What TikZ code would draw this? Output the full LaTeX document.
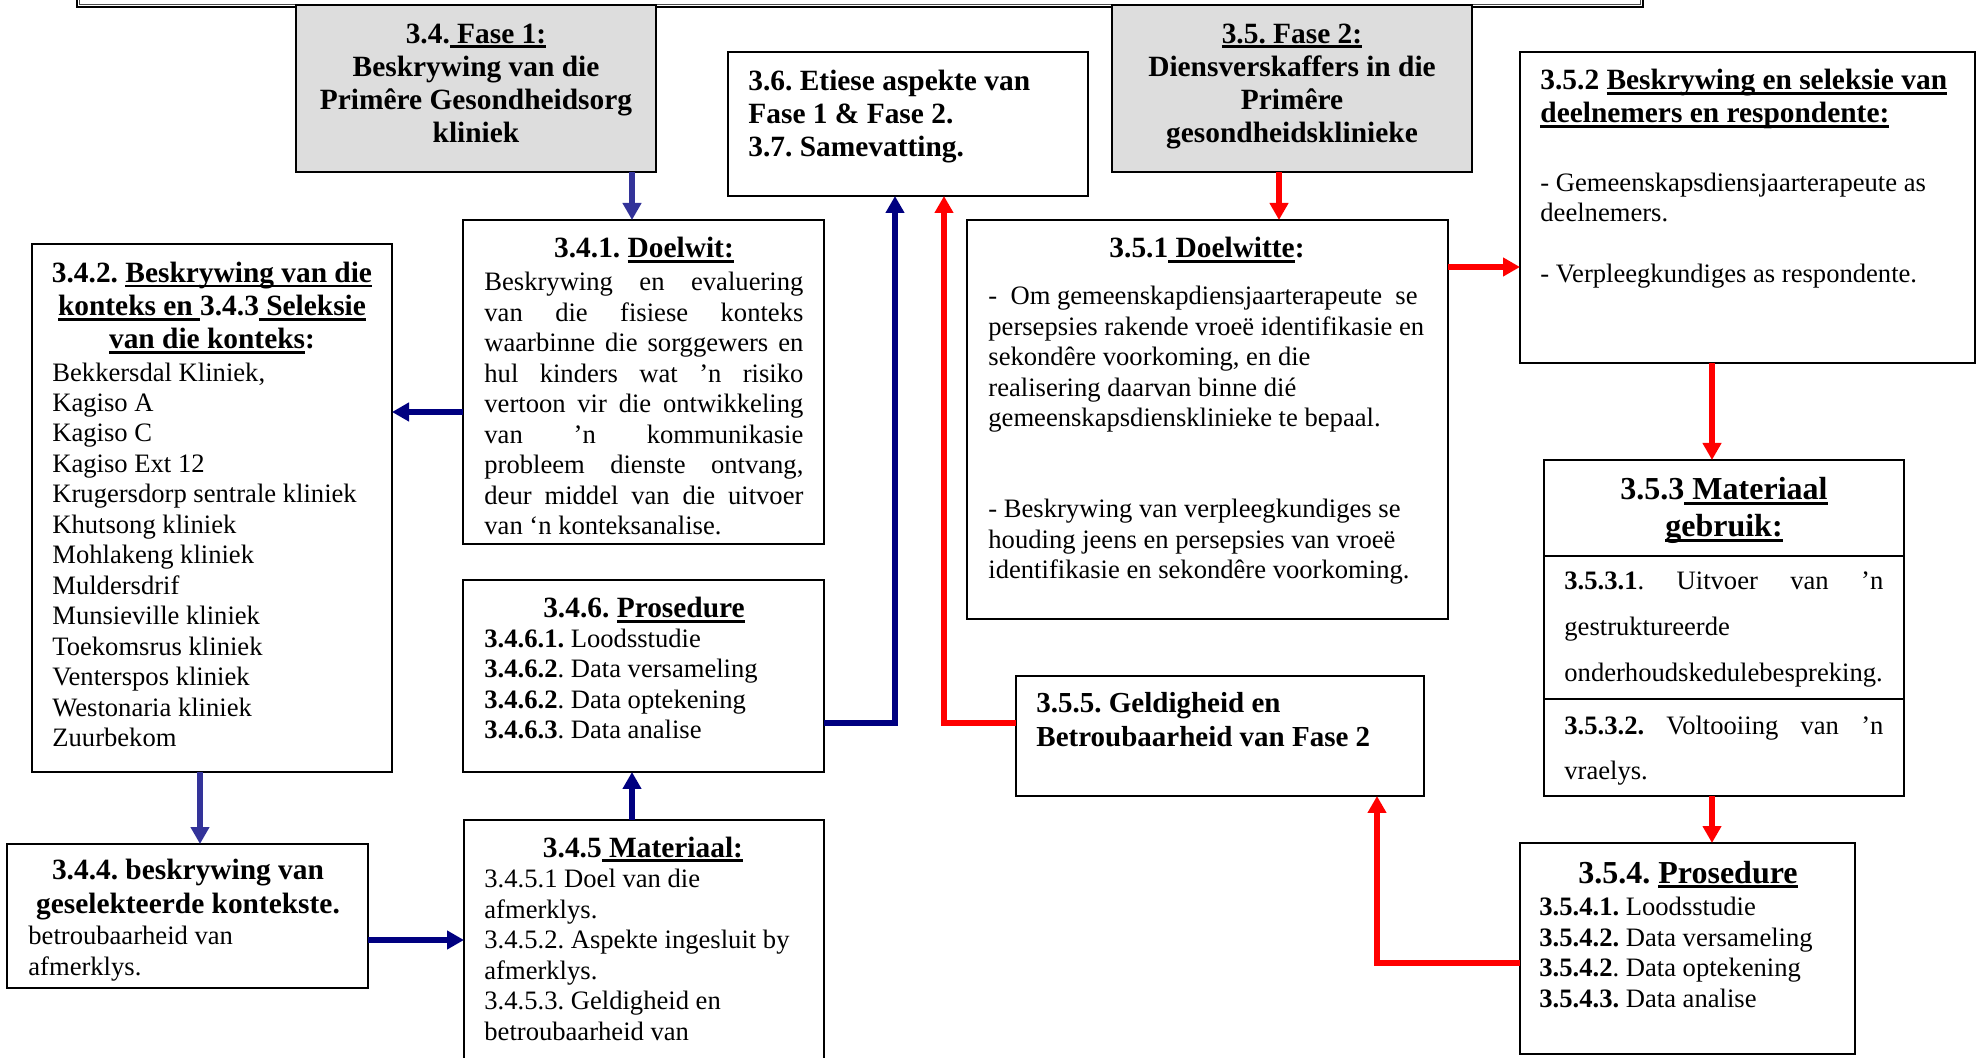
\documentclass[tikz,border=0pt]{standalone}
\usepackage{fontspec}
\setmainfont{Liberation Serif}
\usetikzlibrary{arrows.meta,calc,fit}
\frenchspacing

\definecolor{navyline}{RGB}{0,0,128}
\definecolor{slateline}{RGB}{51,51,153}
\definecolor{redline}{RGB}{255,0,0}
\definecolor{panelgray}{RGB}{221,221,221}

% heavy underline used in the headings
\newsavebox\ulbox
\newcommand\ul[1]{\sbox\ulbox{#1}\rlap{\vrule height -1.2pt depth 2.4pt width \wd\ulbox}\usebox\ulbox}
\newcommand\hdfont{\bfseries\fontsize{14.7}{16.6}\selectfont}
\newcommand\bigfont{\bfseries\fontsize{16}{18.5}\selectfont}
\newcommand\bdfont{\fontsize{13.3}{15.25}\selectfont}
% one justified line of a narrow column
\newcommand\jl[1]{\makebox[159.5pt][s]{#1}}

\begin{document}
\begin{tikzpicture}[x=0.5pt,y=-0.5pt,
  frame/.style={draw=black, line width=1pt, inner sep=0pt, outer sep=0pt},
  shaded/.style={frame, fill=panelgray},
  head/.style={font=\hdfont, inner sep=0pt, align=center, anchor=base},
  headl/.style={font=\hdfont, inner sep=0pt, align=left, anchor=base west},
  bighead/.style={font=\bigfont, inner sep=0pt, align=center, anchor=base},
  body/.style={font=\bdfont, inner sep=0pt, align=left, anchor=base west},
  link/.style={line width=3pt, -{Triangle[length=8.5pt,width=9pt]}},
  navylink/.style={link, color=navyline},
  slatelink/.style={link, color=slateline},
  redlink/.style={link, color=redline},
]
\useasboundingbox (0,0) rectangle (1977,1058);

% title frame along the top edge
\node[draw=black, line width=1.3pt, inner sep=0pt, fit={(77,-40) (1643,7)}] (title) {};
\draw[black!70, line width=0.6pt] ($(title.south west)+(4,-4)$) rectangle ($(title.north east)+(-4,0)$);

% ---------- boxes ----------
\node[shaded, fit={(296,5) (656,172)}] (b34) {};
\node[frame, fit={(728,52) (1088,196)}] (b36) {};
\node[shaded, fit={(1112,5) (1472,172)}] (b35) {};
\node[frame, fit={(1520,52) (1975,363)}] (b352) {};
\node[frame, fit={(32,244) (392,772)}] (b342) {};
\node[frame, fit={(463,220) (824,544)}] (b341) {};
\node[frame, fit={(463,580) (824,772)}] (b346) {};
\node[frame, fit={(967,220) (1448,619)}] (b351) {};
\node[frame, fit={(1016,676) (1424,796)}] (b355) {};
\node[frame, fit={(1544,460) (1904,796)}] (b353) {};
\node[frame, fit={(1520,843) (1855,1054)}] (b354) {};
\node[frame, fit={(7,844) (368,988)}] (b344) {};
\node[frame, fit={(464,820) (824,1080)}] (b345) {};
\draw[line width=1pt] ($(b353.north west)+(0,96)$) -- ($(b353.north east)+(0,96)$);
\draw[line width=1pt] ($(b353.north west)+(0,239)$) -- ($(b353.north east)+(0,239)$);

% ---------- texts (each placed at the baseline of its last line) ----------
\node[head, font=\bfseries\fontsize{14.7}{16.65}\selectfont] (t34) at (476,143)
  {3.4.\ul{ Fase 1:}\\Beskrywing van die\\Primêre Gesondheidsorg\\kliniek};
\node[headl] (t36) at (748,157)
  {3.6. Etiese aspekte van\\Fase 1 \& Fase 2.\\3.7. Samevatting.};
\node[head, font=\bfseries\fontsize{14.7}{16.65}\selectfont] (t35) at (1292,143)
  {\ul{3.5. Fase 2:}\\Diensverskaffers in die\\Primêre\\gesondheidsklinieke};

\node[headl] (t352h) at (1540,123)
  {3.5.2 \ul{Beskrywing en seleksie van}\\\ul{deelnemers en respondente:}};
\node[body] (t352a) at (1540,222) {- Gemeenskapsdiensjaarterapeute as\\deelnemers.};
\node[body] (t352b) at (1540,283) {- Verpleegkundiges as respondente.};

\node[head] (t342h) at (212,349)
  {3.4.2. \ul{Beskrywing van die}\\\ul{konteks en }3.4.3\ul{ Seleksie}\\\ul{van die konteks}:};
\node[body] (t342b) at (52,747)
  {Bekkersdal Kliniek,\\Kagiso A\\Kagiso C\\Kagiso Ext 12\\Krugersdorp sentrale kliniek\\%
   Khutsong kliniek\\Mohlakeng kliniek\\Muldersdrif\\Munsieville kliniek\\Toekomsrus kliniek\\%
   Venterspos kliniek\\Westonaria kliniek\\Zuurbekom};

\node[head] (t341h) at (644,258) {3.4.1. \ul{Doelwit:}};
\node[body] (t341b) at (484,535)
  {\jl{Beskrywing en evaluering}\\\jl{van die fisiese konteks}\\\jl{waarbinne die sorggewers en}\\%
   \jl{hul kinders wat ’n risiko}\\\jl{vertoon vir die ontwikkeling}\\\jl{van ’n kommunikasie}\\%
   \jl{probleem dienste ontvang,}\\\jl{deur middel van die uitvoer}\\van ‘n konteksanalise.};

\node[head] (t346h) at (644,618) {3.4.6. \ul{Prosedure}};
\node[body] (t346b) at (484,739)
  {\textbf{3.4.6.1.} Loodsstudie\\\textbf{3.4.6.2}. Data versameling\\%
   \textbf{3.4.6.2}. Data optekening\\\textbf{3.4.6.3}. Data analise};

\node[head] (t351h) at (1207,258) {3.5.1\ul{ Doelwitte}:};
\node[body] (t351a) at (988,427)
  {-\ \ Om gemeenskapdiensjaarterapeute\ \ se\\persepsies rakende vroeë identifikasie en\\%
   sekondêre voorkoming, en die\\realisering daarvan binne dié\\gemeenskapsdiensklinieke te bepaal.};
\node[body] (t351b) at (988,579)
  {- Beskrywing van verpleegkundiges se\\houding jeens en persepsies van vroeë\\%
   identifikasie en sekondêre voorkoming.};

\node[headl, font=\bfseries\fontsize{14.5}{17}\selectfont] (t355) at (1036,747)
  {3.5.5. Geldigheid en\\Betroubaarheid van Fase 2};

\node[bighead] (t353h) at (1724,537) {3.5.3\ul{ Materiaal}\\\ul{gebruik:}};
\node[body, font=\fontsize{13.3}{23}\selectfont] (t353a) at (1564,682)
  {\jl{\textbf{3.5.3.1}. Uitvoer van ’n}\\gestruktureerde\\onderhoudskedulebespreking.};
\node[body, font=\fontsize{13.3}{22.5}\selectfont] (t353b) at (1564,780)
  {\jl{\textbf{3.5.3.2.} Voltooiing van ’n}\\vraelys.};

\node[bighead] (t354h) at (1688,883) {3.5.4. \ul{Prosedure}};
\node[body] (t354b) at (1539,1007)
  {\textbf{3.5.4.1.} Loodsstudie\\\textbf{3.5.4.2.} Data versameling\\%
   \textbf{3.5.4.2}. Data optekening\\\textbf{3.5.4.3.} Data analise};

\node[head] (t344h) at (188,913) {3.4.4. beskrywing van\\geselekteerde kontekste.};
\node[body] (t344b) at (28,975) {betroubaarheid van\\afmerklys.};

\node[head] (t345h) at (643,857) {3.4.5\ul{ Materiaal:}};
\node[body] (t345b) at (484,1040)
  {3.4.5.1 Doel van die\\afmerklys.\\3.4.5.2. Aspekte ingesluit by\\afmerklys.\\%
   3.4.5.3. Geldigheid en\\betroubaarheid van};

% ---------- connectors, phase 1 ----------
\draw[slatelink] ($(b34.south west)+(336,0)$) -- ($(b341.north west)+(169,0)$);
\draw[navylink] ($(b341.north west)+(0,192)$) -- ($(b342.north east)+(0,168)$);
\draw[slatelink] ($(b342.south west)+(168,0)$) -- ($(b344.north west)+(193,0)$);
\draw[navylink] ($(b344.north east)+(0,96)$) -- ($(b345.north west)+(0,120)$);
\draw[navylink] ($(b345.north west)+(168,0)$) -- ($(b346.south west)+(169,0)$);
\draw[navylink] ($(b346.north east)+(0,143)$) -| ($(b36.south west)+(167,0)$);

% ---------- connectors, phase 2 ----------
\draw[redlink] ($(b355.north west)+(0,47)$) -| ($(b36.south west)+(216,0)$);
\draw[redlink] ($(b35.south west)+(167,0)$) -- ($(b351.north west)+(312,0)$);
\draw[redlink] ($(b351.north east)+(0,47)$) -- ($(b352.north west)+(0,215)$);
\draw[redlink] ($(b352.south west)+(192,0)$) -- ($(b353.north west)+(168,0)$);
\draw[redlink] ($(b353.south west)+(168,0)$) -- ($(b354.north west)+(192,0)$);
\draw[redlink] ($(b354.north west)+(0,120)$) -| ($(b355.south west)+(361,0)$);
\end{tikzpicture}
\end{document}
